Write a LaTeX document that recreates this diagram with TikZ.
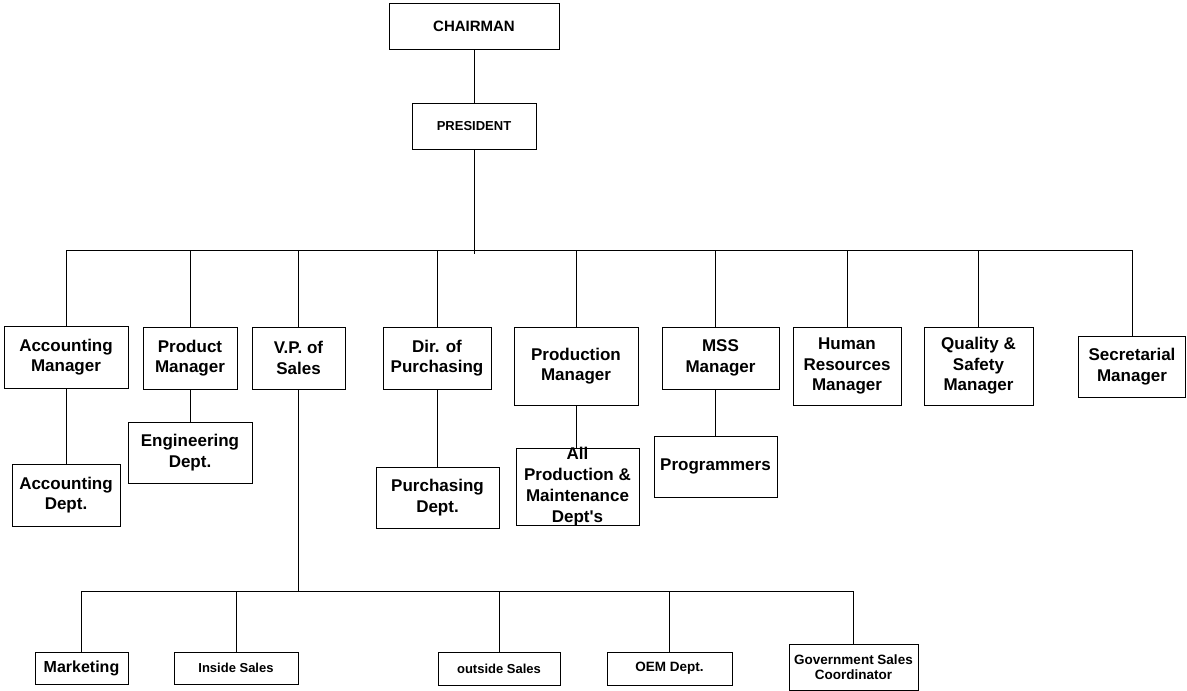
\documentclass[tikz,border=0pt]{standalone}
\usepackage{fontspec}
\setmainfont{Liberation Sans}
\newfontfamily\plainarial{Liberation Sans}
\begin{document}
\begin{tikzpicture}[x=1pt,y=-1pt,
  ln/.style={line width=0.9pt},
  box/.style={draw,line width=0.9pt,inner sep=0pt,align=center},
  fbig/.style={font=\bfseries\fontsize{17}{20.5}\selectfont},
  fmid/.style={font=\bfseries\fontsize{15}{17}\selectfont},
  fsm/.style={font=\bfseries\fontsize{13}{15.5}\selectfont},
  fmkt/.style={font=\bfseries\fontsize{16}{18}\selectfont},
  fgov/.style={font=\bfseries\fontsize{13.5}{15.5}\selectfont}]
\useasboundingbox (0,0) rectangle (1187,691);
% top
\node[box,fmid,minimum width=170,minimum height=46] (chair) at (474,26) {CHAIRMAN};
\node[box,fsm,minimum width=124,minimum height=46] (pres) at (474,126) {PRESIDENT};
% managers
\node[box,fbig,minimum width=124,minimum height=62] (accm) at (66,357) {Accounting\\Manager};
\node[box,fbig,minimum width=94,minimum height=62] (prodm) at (190,358) {Product\\Manager};
\node[box,fbig,minimum width=93,minimum height=62] (vp) at (298.5,358) {V.P. of\\Sales};
\node[box,fbig,minimum width=108,minimum height=62] (dirp) at (437,358) {Dir. of\\Purchasing};
\node[box,fbig,minimum width=124,minimum height=78] (prodn) at (576,366) {Production\\Manager};
\node[box,fbig,minimum width=117,minimum height=62] (mss) at (720.5,358) {MSS\\Manager};
\node[box,fbig,minimum width=108,minimum height=78] (hr) at (847,366) {Human\\Resources\\Manager};
\node[box,fbig,minimum width=109,minimum height=78] (qs) at (978.5,366) {Quality \&\\Safety\\Manager};
\node[box,fbig,minimum width=107,minimum height=61] (sec) at (1132,366.5) {Secretarial\\Manager};
% departments
\node[box,fbig,minimum width=108,minimum height=62] (accd) at (66,495) {Accounting\\Dept.};
\node[box,fbig,minimum width=124,minimum height=61] (eng) at (190,452.5) {Engineering\\Dept.};
\node[box,fbig,minimum width=123,minimum height=61] (purd) at (437.5,497.5) {Purchasing\\Dept.};
\node[box,minimum width=123,minimum height=77] (allp) at (577.5,486.5) {};
\node[inner sep=0pt,align=center,font=\plainarial\bfseries\fontsize{17}{21}\selectfont] (allpt) at (allp.center) {All\\Production \&\\Maintenance\\Dept's};
\node[box,fbig,minimum width=123,minimum height=61] (prog) at (715.5,466.5) {Programmers};
% sales
\node[box,fmkt,minimum width=93,minimum height=32] (mkt) at (81.5,668) {Marketing};
\node[box,fsm,minimum width=124,minimum height=32] (ins) at (236,668) {Inside Sales};
\node[box,fsm,minimum width=122,minimum height=33] (outs) at (499,668.5) {outside Sales};
\node[box,fgov,minimum width=125,minimum height=33] (oem) at (669.5,668.5) {OEM Dept.};
\node[box,fgov,minimum width=129,minimum height=46] (gov) at (853.5,667) {Government Sales\\Coordinator};
% connectors
\coordinate (mbL) at (66,250);
\coordinate (mbR) at (1132,250);
\coordinate (mbP) at (474,254);
\coordinate (sbL) at (81.5,591);
\coordinate (sbR) at (853.5,591);
\draw[ln] (chair.south) -- (pres.north);
\draw[ln] (pres.south) -- (mbP);
\draw[ln] (mbL) -- (mbR);
\foreach \n in {accm,prodm,vp,dirp,prodn,hr,qs,sec}
  \draw[ln] (\n.north) -- (\n.north |- mbL);
\draw[ln] ([xshift=-5.5pt]mss.north) -- ([xshift=-5.5pt]mss.north |- mbL);
\draw[ln] (accm.south) -- (accm.south |- accd.north);
\draw[ln] (prodm.south) -- (prodm.south |- eng.north);
\draw[ln] (dirp.south) -- (dirp.south |- purd.north);
\draw[ln] (prodn.south) -- (prodn.south |- allp.north);
\draw[ln] ([xshift=-5.5pt]mss.south) -- ([xshift=-5.5pt]mss.south |- prog.north);
\draw[ln] (vp.south) -- (vp.south |- sbL);
\draw[ln] (sbL) -- (sbR);
\foreach \n in {mkt,ins,outs,oem,gov}
  \draw[ln] (\n.north) -- (\n.north |- sbL);
\end{tikzpicture}
\end{document}
